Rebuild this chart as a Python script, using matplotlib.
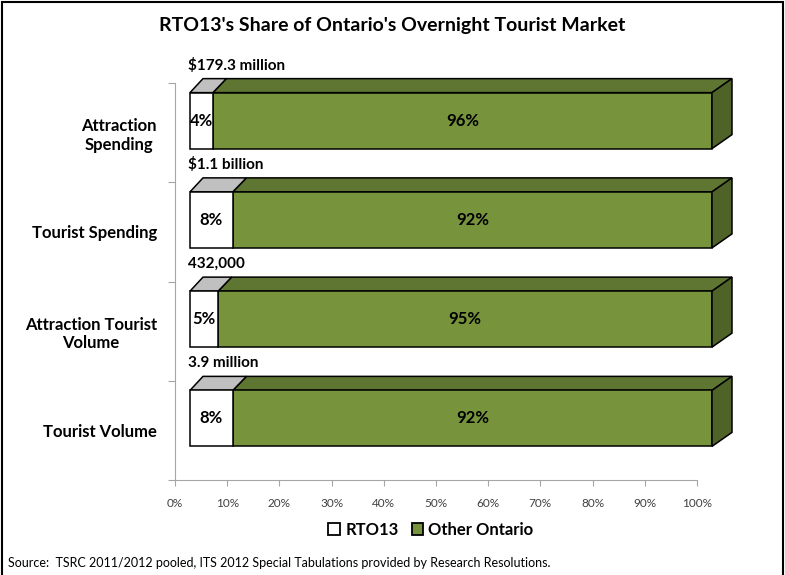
import matplotlib.pyplot as plt
from matplotlib.patches import Polygon, Patch, Rectangle

# --- Data ---
categories = ["Attraction\nSpending", "Tourist Spending", "Attraction Tourist\nVolume", "Tourist Volume"]
rto13_share = [4.4, 8.2, 5.4, 8.2]          # % of Ontario market
other_share = [100 - v for v in rto13_share]
totals = ["$179.3 million", "$1.1 billion", "432,000", "3.9 million"]
series_names = ["RTO13", "Other Ontario"]
x_ticks = list(range(0, 101, 10))

# --- Style ---
FONT = ["Lato", "DejaVu Sans"]
plt.rcParams['font.family'] = FONT
FRONT = ["#FFFFFF", "#77933C"]
TOP = ["#C0C0C0", "#5F7632"]
SIDE = ["#A6A6A6", "#4F6228"]

W, H = 785, 575
fig = plt.figure(figsize=(W / 100, H / 100), dpi=100)

# plot area in pixels (left, top, right, bottom)
L, T, R, B = 175, 83, 697, 480
ax = fig.add_axes([L / W, 1 - B / H, (R - L) / W, (B - T) / H])
ax.set_xlim(0, 100)
ax.set_ylim(len(categories) - 0.5, -0.5)

px_x = (R - L) / 100.0               # pixels per x unit
px_y = (B - T) / len(categories)     # pixels per category

# 3D look: front face shifted from the axis, depth going up-right
off_x = 15 / px_x
off_y = -12 / px_y
bar_h = 56 / px_y
depth_y = -14 / px_y


def depth_x(x):
    # slight perspective: deeper on the right
    return (13 + 7 * x / 100) / px_x


def box(x0, x1, yc, k, show_side):
    y_top = yc - bar_h / 2
    y_bot = yc + bar_h / 2
    fx0, fx1 = x0 + off_x, x1 + off_x
    front = [(fx0, y_top), (fx1, y_top), (fx1, y_bot), (fx0, y_bot)]
    top = [(fx0, y_top), (fx1, y_top),
           (fx1 + depth_x(x1), y_top + depth_y), (fx0 + depth_x(x0), y_top + depth_y)]
    side = [(fx1, y_top), (fx1 + depth_x(x1), y_top + depth_y),
            (fx1 + depth_x(x1), y_bot + depth_y), (fx1, y_bot)]
    faces = [(top, TOP[k]), (front, FRONT[k])]
    if show_side:
        faces.append((side, SIDE[k]))
    for pts, col in faces:
        ax.add_patch(Polygon(pts, closed=True, facecolor=col, edgecolor="black",
                             linewidth=1.1, clip_on=False, zorder=3))


for i, (a, b) in enumerate(zip(rto13_share, other_share)):
    yc = i + off_y
    box(a, a + b, yc, 1, True)
    box(0, a, yc, 0, False)
    ax.text(off_x + a / 2, yc, f"{a:.0f}%", ha="center", va="center",
            fontsize=12, fontweight="bold", zorder=4)
    ax.text(off_x + a + b / 2, yc, f"{b:.0f}%", ha="center", va="center",
            fontsize=12, fontweight="bold", zorder=4)
    ax.text(off_x - 0.3, yc - bar_h / 2 + depth_y - 0.06, totals[i], ha="left",
            va="bottom", fontsize=11, fontweight="bold", zorder=5)

# axes
for s in ["top", "right"]:
    ax.spines[s].set_visible(False)
for s in ["left", "bottom"]:
    ax.spines[s].set_color("#A6A6A6")
ax.set_xticks(x_ticks)
ax.set_xticklabels([f"{t}%" for t in x_ticks])
ax.tick_params(axis="x", colors="#A6A6A6", labelcolor="#404040", labelsize=8.5, length=4, pad=9)
ax.set_yticks([i - 0.5 for i in range(len(categories) + 1)])
ax.set_yticklabels([])
ax.set_yticks(range(len(categories)), minor=True)
ax.set_yticklabels(categories, minor=True, fontsize=12, fontweight="bold",
                   multialignment="center")
ax.tick_params(axis="y", which="major", colors="#A6A6A6", length=5)
ax.tick_params(axis="y", which="minor", length=0, pad=13)

fig.text(0.5, 1 - 25 / H, "RTO13's Share of Ontario's Overnight Tourist Market",
         ha="center", va="center", fontsize=14, fontweight="bold")

handles = [Patch(facecolor=FRONT[k], edgecolor="black", linewidth=1.3) for k in range(2)]
fig.legend(handles, series_names, loc="center", bbox_to_anchor=(431 / W, 1 - 530 / H),
           ncol=2, frameon=False, prop={"weight": "bold", "size": 12, "family": FONT},
           handlelength=0.7, handleheight=0.7, handletextpad=0.3, columnspacing=0.8)

fig.text(8 / W, 1 - 563 / H,
         "Source:  TSRC 2011/2012 pooled, ITS 2012 Special Tabulations provided by Research Resolutions.",
         ha="left", va="center", fontsize=9)

# outer frame
fig.add_artist(Rectangle((2 / W, -0.05), 781 / W, 1.05 - 2 / H, transform=fig.transFigure,
                         fill=False, edgecolor="black", linewidth=1.5))

fig.savefig("out.png", dpi=100)
